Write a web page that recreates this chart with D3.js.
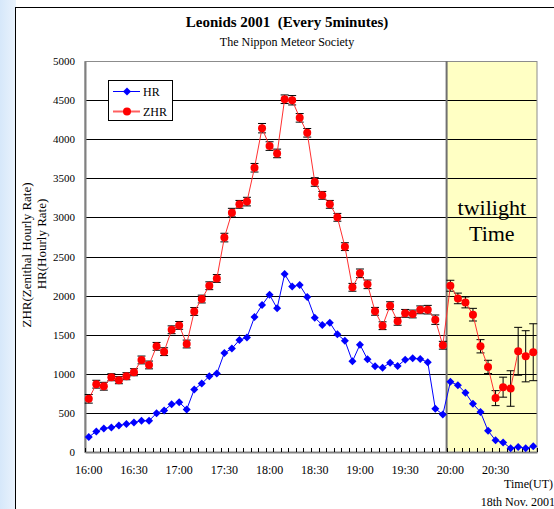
<!DOCTYPE html>
<html>
<head>
<meta charset="utf-8">
<script src="https://cdn.jsdelivr.net/npm/d3@7"></script>
<style>
  html, body { margin: 0; padding: 0; background: #fff; }
  svg { display: block; }
  text { font-family: "Liberation Serif", "Times New Roman", serif; fill: #000; }
</style>
</head>
<body>
<svg id="chart" width="554" height="509"></svg>
<script>
// 5-minute intervals, 18th Nov. 2001 (UT)
const times = [
  "16:00","16:05","16:10","16:15","16:20","16:25","16:30","16:35","16:40","16:45","16:50","16:55",
  "17:00","17:05","17:10","17:15","17:20","17:25","17:30","17:35","17:40","17:45","17:50","17:55",
  "18:00","18:05","18:10","18:15","18:20","18:25","18:30","18:35","18:40","18:45","18:50","18:55",
  "19:00","19:05","19:10","19:15","19:20","19:25","19:30","19:35","19:40","19:45","19:50","19:55",
  "20:00","20:05","20:10","20:15","20:20","20:25","20:30","20:35","20:40","20:45","20:50","20:55"
];

// Hourly rate
const hr = [
  191, 263, 302, 314, 340, 357, 378, 399, 399, 497, 531, 612,
  637, 544, 799, 876, 969, 1003, 1267, 1322, 1433, 1463, 1726, 1879,
  2011, 1837, 2275, 2117, 2134, 1981, 1718, 1624, 1654, 1505, 1424, 1159,
  1373, 1185, 1095, 1078, 1142, 1100, 1181, 1198, 1190, 1148, 553, 480,
  897, 855, 757, 617, 510, 272, 149, 123, 47, 64, 47, 72
];

// Zenithal hourly rate
const zhr = [
  680, 867, 841, 956, 918, 969, 1020, 1177, 1113, 1351, 1283, 1563,
  1619, 1381, 1797, 1956, 2126, 2219, 2742, 3061, 3167, 3202, 3635, 4141,
  3912, 3818, 4511, 4498, 4273, 4082, 3453, 3282, 3167, 3001, 2626, 2106,
  2285, 2144, 1799, 1615, 1871, 1671, 1773, 1765, 1818, 1820, 1692, 1365,
  2126, 1964, 1913, 1756, 1352, 1088, 689, 829, 812, 1288, 1224, 1276
];

// ZHR error (+/-)
const zhrErr = [
  55, 50, 50, 45, 45, 45, 45, 50, 50, 50, 50, 50,
  50, 50, 50, 50, 50, 50, 55, 55, 50, 55, 55, 60,
  55, 55, 55, 60, 55, 55, 55, 50, 50, 50, 50, 50,
  55, 55, 50, 50, 50, 50, 50, 50, 50, 55, 60, 50,
  70, 68, 70, 81, 85, 85, 96, 128, 227, 306, 327, 364
];

const xLabels = ["16:00","16:30","17:00","17:30","18:00","18:30","19:00","19:30","20:00","20:30"];
const yTicks = [0, 500, 1000, 1500, 2000, 2500, 3000, 3500, 4000, 4500, 5000];
const twilightStart = "20:00";

const svg = d3.select("#chart");
const W = 554, H = 509;
const plot = { left: 85, right: 537, top: 61, bottom: 452 };

// page background: pale blue band on the left, framed chart area
const grad = svg.append("defs").append("linearGradient")
  .attr("id", "side").attr("x1", "0").attr("x2", "1").attr("y1", "0").attr("y2", "0");
grad.append("stop").attr("offset", "0").attr("stop-color", "#d6e8fa");
grad.append("stop").attr("offset", "1").attr("stop-color", "#eaf3fd");
svg.append("rect").attr("x", 0).attr("y", 0).attr("width", 16).attr("height", H).attr("fill", "url(#side)");
svg.append("line").attr("x1", 15.5).attr("x2", 15.5).attr("y1", 7).attr("y2", H)
  .attr("stroke", "#000").attr("stroke-width", 1);
svg.append("line").attr("x1", 15).attr("x2", W).attr("y1", 7.5).attr("y2", 7.5)
  .attr("stroke", "#000").attr("stroke-width", 1);

const x = d3.scaleBand().domain(times).range([plot.left, plot.right]).padding(0);
const y = d3.scaleLinear().domain([0, 5000]).range([plot.bottom, plot.top]);
const cx = t => x(t) + x.bandwidth() / 2;

// twilight shading
const tx = x(twilightStart);
svg.append("rect")
  .attr("x", tx).attr("y", plot.top)
  .attr("width", plot.right - tx).attr("height", plot.bottom - plot.top)
  .attr("fill", "#ffffc4");

// horizontal gridlines
svg.append("g").selectAll("line").data(yTicks.filter(v => v > 0 && v < 5000)).join("line")
  .attr("x1", plot.left).attr("x2", plot.right)
  .attr("y1", d => Math.round(y(d)) + 0.5).attr("y2", d => Math.round(y(d)) + 0.5)
  .attr("stroke", "#000").attr("stroke-width", 1);

// plot frame
svg.append("rect")
  .attr("x", plot.left).attr("y", plot.top + 0.5)
  .attr("width", plot.right - plot.left).attr("height", plot.bottom - plot.top)
  .attr("fill", "none").attr("stroke", "#8c8c8c").attr("stroke-width", 1);

// twilight boundary
svg.append("line").attr("x1", tx).attr("x2", tx).attr("y1", plot.top).attr("y2", plot.bottom)
  .attr("stroke", "#707070").attr("stroke-width", 2);

// twilight label
svg.append("text").attr("x", (tx + plot.right) / 2).attr("y", 215)
  .attr("text-anchor", "middle").style("font-size", "22px").text("twilight");
svg.append("text").attr("x", (tx + plot.right) / 2).attr("y", 241)
  .attr("text-anchor", "middle").style("font-size", "22px").text("Time");

// y axis
const yAxis = svg.append("g").attr("transform", `translate(${plot.left},0)`)
  .call(d3.axisLeft(y).tickValues(yTicks).tickSize(0).tickPadding(10).tickFormat(d3.format("d")));
yAxis.select(".domain").attr("stroke", "#808080").attr("stroke-width", 2);
yAxis.selectAll("text").style("font-size", "11px").style("font-family", "'Liberation Serif', serif");

// x axis: labels at category centres, small ticks at category edges
const xAxis = svg.append("g").attr("transform", `translate(0,${plot.bottom})`)
  .call(d3.axisBottom(x).tickValues(xLabels).tickSize(0).tickPadding(13));
xAxis.select(".domain").attr("stroke", "#808080").attr("stroke-width", 2);
xAxis.selectAll("text").style("font-size", "12px").style("font-family", "'Liberation Serif', serif");
const edges = times.map(t => x(t)).concat([plot.right]);
svg.append("g").selectAll("line").data(edges).join("line")
  .attr("x1", d => Math.round(d) + 0.5).attr("x2", d => Math.round(d) + 0.5)
  .attr("y1", plot.bottom - 4).attr("y2", plot.bottom)
  .attr("stroke", "#000").attr("stroke-width", 1);

// axis titles
svg.append("text").attr("transform", "translate(31,255) rotate(-90)")
  .attr("text-anchor", "middle").style("font-size", "13px").text("ZHR(Zenithal Hourly Rate)");
svg.append("text").attr("transform", "translate(46,244) rotate(-90)")
  .attr("text-anchor", "middle").style("font-size", "13px").text("HR(Hourly Rate)");
svg.append("text").attr("x", 553).attr("y", 488).attr("text-anchor", "end")
  .style("font-size", "12px").text("Time(UT)");
svg.append("text").attr("x", 555).attr("y", 506).attr("text-anchor", "end")
  .style("font-size", "12px").text("18th Nov. 2001");

// titles
svg.append("text").attr("x", 287).attr("y", 27).attr("text-anchor", "middle")
  .style("font-size", "15px").style("font-weight", "bold").style("white-space", "pre")
  .text("Leonids 2001  (Every 5minutes)");
svg.append("text").attr("x", 287).attr("y", 46).attr("text-anchor", "middle")
  .style("font-size", "12px").text("The Nippon Meteor Society");

// HR series
const hrData = times.map((t, i) => ({ t, v: hr[i] }));
svg.append("path").datum(hrData)
  .attr("fill", "none").attr("stroke", "#0000ff").attr("stroke-width", 1)
  .attr("d", d3.line().x(d => cx(d.t)).y(d => y(d.v)));
svg.append("g").selectAll("path").data(hrData).join("path")
  .attr("transform", d => `translate(${cx(d.t)},${y(d.v)})`)
  .attr("d", "M0,-4L4,0L0,4L-4,0Z").attr("fill", "#0000ff");

// ZHR series with error bars
const zData = times.map((t, i) => ({ t, v: zhr[i], e: zhrErr[i] }));
const eb = svg.append("g").attr("stroke", "#000").attr("stroke-width", 1);
eb.selectAll(".v").data(zData).join("line")
  .attr("x1", d => cx(d.t)).attr("x2", d => cx(d.t))
  .attr("y1", d => y(d.v - d.e)).attr("y2", d => y(d.v + d.e));
eb.selectAll(".t").data(zData).join("line")
  .attr("x1", d => cx(d.t) - 4).attr("x2", d => cx(d.t) + 4)
  .attr("y1", d => y(d.v + d.e)).attr("y2", d => y(d.v + d.e));
eb.selectAll(".b").data(zData).join("line")
  .attr("x1", d => cx(d.t) - 4).attr("x2", d => cx(d.t) + 4)
  .attr("y1", d => y(d.v - d.e)).attr("y2", d => y(d.v - d.e));
svg.append("path").datum(zData)
  .attr("fill", "none").attr("stroke", "#ff3030").attr("stroke-width", 1)
  .attr("d", d3.line().x(d => cx(d.t)).y(d => y(d.v)));
svg.append("g").selectAll("circle").data(zData).join("circle")
  .attr("cx", d => cx(d.t)).attr("cy", d => y(d.v)).attr("r", 4)
  .attr("fill", "#ff0000");

// legend
const lg = svg.append("g");
lg.append("rect").attr("x", 108.5).attr("y", 80.5).attr("width", 64).attr("height", 40)
  .attr("fill", "#fff").attr("stroke", "#000").attr("stroke-width", 1);
lg.append("line").attr("x1", 113).attr("x2", 140).attr("y1", 91.5).attr("y2", 91.5)
  .attr("stroke", "#0000ff").attr("stroke-width", 1);
lg.append("path").attr("transform", "translate(127,91.5)").attr("d", "M0,-4L4,0L0,4L-4,0Z").attr("fill", "#0000ff");
lg.append("text").attr("x", 143).attr("y", 96).style("font-size", "12px").text("HR");
lg.append("line").attr("x1", 113).attr("x2", 140).attr("y1", 111.5).attr("y2", 111.5)
  .attr("stroke", "#ff6060").attr("stroke-width", 2);
lg.append("circle").attr("cx", 127).attr("cy", 111.5).attr("r", 4).attr("fill", "#ff0000");
lg.append("text").attr("x", 143).attr("y", 116).style("font-size", "12px").text("ZHR");
</script>
</body>
</html>
